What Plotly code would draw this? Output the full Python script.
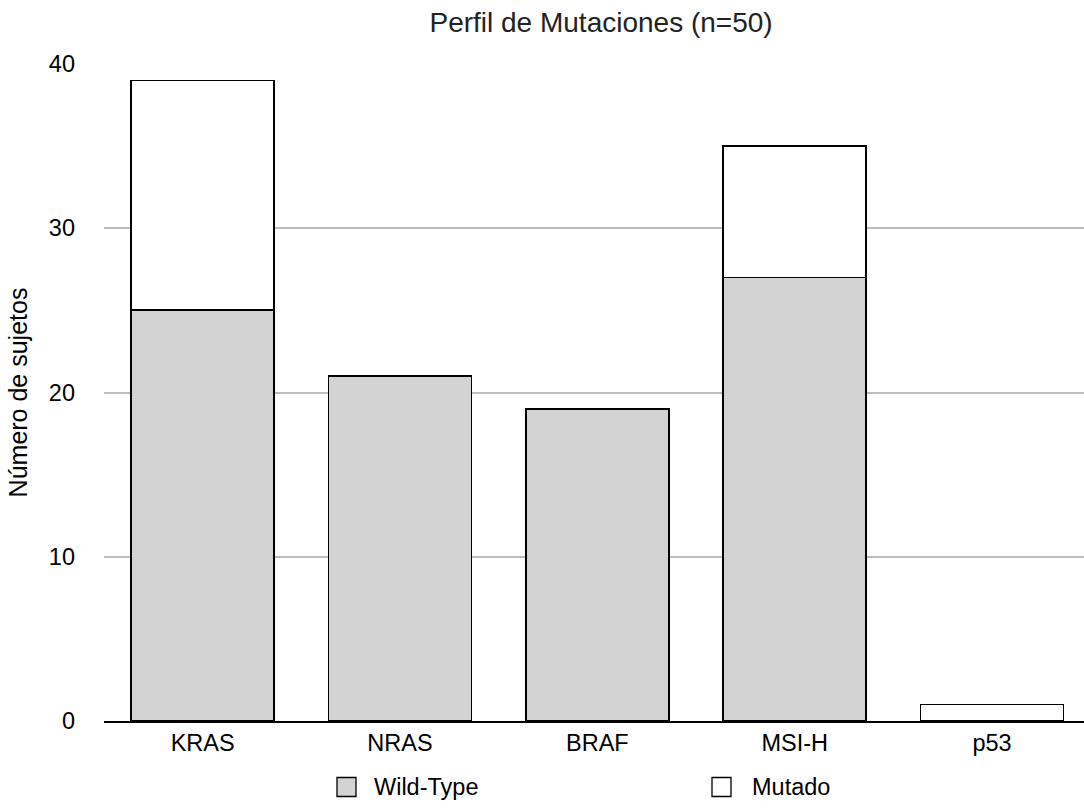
import plotly.graph_objects as go

genes = ["KRAS", "NRAS", "BRAF", "MSI-H", "p53"]
wild_type = [25, 21, 19, 27, 0]
mutado = [14, 0, 0, 8, 1]
y_ticks = [0, 10, 20, 30, 40]

series_names = ["Wild-Type", "Mutado"]
series_colors = ["#d3d3d3", "#ffffff"]

FONT = "Liberation Sans, Arial, sans-serif"
W, H = 1084, 810
M_L, M_R, M_T, M_B = 104, 0, 64, 89
PLOT_W = W - M_L - M_R
PLOT_H = H - M_T - M_B

fig = go.Figure()
for name, vals, col in zip(series_names, [wild_type, mutado], series_colors):
    fig.add_trace(go.Bar(
        x=genes, y=vals, name=name,
        marker=dict(color=col, line=dict(color="#000000", width=1.8)),
        width=0.725, showlegend=False,
    ))


def px_to_paper_x(px):
    return (px - M_L) / PLOT_W


def px_to_paper_y(py):
    return (H - M_B - py) / PLOT_H


# legend drawn beneath the axis: swatch squares + labels
legend_items = [(346.5, 372), (721.5, 750)]
legend_y = 787
for (sx, tx), name, col in zip(legend_items, series_names, series_colors):
    fig.add_shape(
        type="rect", xref="paper", yref="paper",
        xsizemode="pixel", ysizemode="pixel",
        xanchor=px_to_paper_x(sx), yanchor=px_to_paper_y(legend_y),
        x0=-9.5, x1=9.5, y0=-9.5, y1=9.5,
        fillcolor=col, line=dict(color="#000000", width=1.3),
    )
    fig.add_annotation(
        text=name, xref="paper", yref="paper",
        x=px_to_paper_x(tx), y=px_to_paper_y(legend_y),
        xanchor="left", yanchor="middle", showarrow=False,
        font=dict(size=23.5, color="#000000"),
    )

fig.update_layout(
    barmode="stack",
    width=W, height=H,
    margin=dict(l=M_L, r=M_R, t=M_T, b=M_B),
    paper_bgcolor="white", plot_bgcolor="white",
    font=dict(family=FONT, size=23.5, color="#000000"),
    title=dict(text="Perfil de Mutaciones (n=50)", x=0.5545, xanchor="center",
               y=0.972, yanchor="middle", font=dict(size=28, color="#222222")),
    showlegend=False,
)
fig.update_xaxes(
    range=[-0.5, 4.466], showgrid=False, showline=True, linecolor="#000000",
    linewidth=2, ticks="", tickfont=dict(size=23.5),
)
fig.update_yaxes(
    range=[0, 40], tickvals=y_ticks, showgrid=True, gridcolor="#bdbdbd",
    gridwidth=2, zeroline=False, showline=False, ticks="",
    tickfont=dict(size=23.5), ticklabelstandoff=28,
    title=dict(text="Número de sujetos", font=dict(size=25), standoff=14),
)

fig.write_html("out.html")
